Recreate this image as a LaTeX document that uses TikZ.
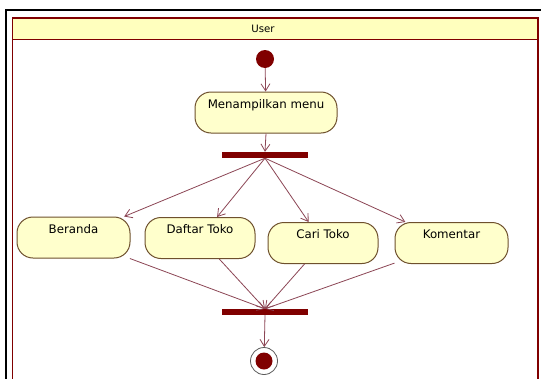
\documentclass[tikz,border=0pt]{standalone}
\usepackage{fontspec}
\setmainfont{DejaVu Sans}
\usetikzlibrary{arrows.meta}
\definecolor{maroonc}{RGB}{128,0,0}
\definecolor{boxfill}{RGB}{255,255,204}
\definecolor{boxline}{RGB}{110,80,45}
\definecolor{edgec}{RGB}{140,70,85}
\definecolor{headfill}{RGB}{255,255,190}
\definecolor{ringc}{RGB}{90,90,90}
\begin{document}
\begin{tikzpicture}[x=1pt,y=-1pt,
  act/.style={draw=boxline, fill=boxfill, line width=1pt, rounded corners=16pt,
    minimum height=41pt, inner xsep=2pt, inner ysep=4pt, text height=12pt, text depth=21pt,
    font=\fontsize{11.8}{13}\selectfont},
  bar/.style={fill=maroonc, draw=none, minimum width=86pt, minimum height=6pt, inner sep=0pt},
  flow/.style={draw=edgec, line width=0.8pt, -{Straight Barb[length=7pt,width=9pt]}},
  frame/.style={draw=maroonc, line width=1.5pt}]
\useasboundingbox (0,0) rectangle (541,378);
\fill[white] (0,0) rectangle (541,378);
% outer black frame
\draw[black, line width=2pt] (6,380) -- (6,10) -- (543,10);
% swimlane
\filldraw[fill=headfill, frame] (12.5,18) rectangle (538,39.5);
\draw[frame] (12.5,39.5) -- (12.5,380);
\draw[frame] (538,39.5) -- (538,380);
\node[font=\fontsize{10.2}{11}\selectfont] (lane) at (263,29) {User};
% nodes
\node[circle, fill=maroonc, minimum size=18pt, inner sep=0pt] (init) at (265,59) {};
\node[act, minimum width=142pt] (menu) at (266,112.5) {Menampilkan menu};
\node[bar] (fork) at (265,155) {};
\node[act, minimum width=113pt] (beranda) at (73.5,237.5) {Beranda};
\node[act, minimum width=110pt] (daftar) at (200,238) {Daftar Toko};
\node[act, minimum width=110pt] (cari) at (323,243) {Cari Toko};
\node[act, minimum width=113pt] (komentar) at (451.5,243) {Komentar};
\node[bar] (join) at (265,312) {};
\node[circle, draw=ringc, fill=white, line width=0.8pt, minimum size=27pt, inner sep=0pt] (final) at (264,361) {};
\node[circle, fill=maroonc, minimum size=17pt, inner sep=0pt] (finalin) at (final.center) {};
% edges
\draw[flow] (init) -- (menu);
\draw[flow] (menu.south) -- (fork.north);
\draw[flow] (fork.south) -- (beranda);
\draw[flow] (fork.south) -- (daftar);
\draw[flow] (fork.south) -- (cari);
\draw[flow] (fork.south) -- (komentar);
\draw[flow] (beranda) -- (join.north);
\draw[flow] (daftar) -- (join.north);
\draw[flow] (cari) -- (join.north);
\draw[flow] (komentar) -- (join.north);
\draw[flow] (join.south) -- (final);
\end{tikzpicture}
\end{document}
